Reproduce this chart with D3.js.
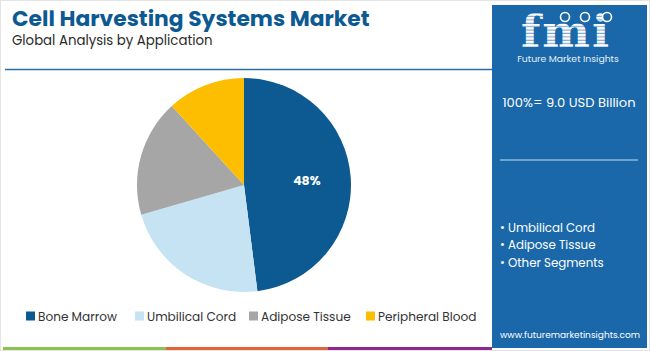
<!DOCTYPE html>
<html><head><meta charset="utf-8">
<script src="https://cdn.jsdelivr.net/npm/d3@7"></script>
<style>body{margin:0;background:#fff}svg{display:block}</style>
</head><body>
<script>
const categories = ["Bone Marrow","Umbilical Cord","Adipose Tissue","Peripheral Blood"];
const values = [48, 22.5, 17.7, 11.8];
const colors = ["#0c5a91","#c6e3f3","#a6a6a6","#fdbd00"];
const title = "Cell Harvesting Systems Market";
const subtitle = "Global Analysis by Application";
const totalText = "100%= 9.0 USD Billion";
const panelList = ["Umbilical Cord","Adipose Tissue","Other Segments"];
const url = "www.futuremarketinsights.com";
const shownLabels = ["48%", null, null, null];

const W=650,H=351;
const svg=d3.select("body").append("svg").attr("width",W).attr("height",H);
svg.append("rect").attr("x",0.5).attr("y",0.5).attr("width",W-1).attr("height",H-1).attr("fill","#fff").attr("stroke","#e4e4e4");

svg.append("text").attr("x",12).attr("y",26).text(title)
  .attr("font-family","Poppins, 'Open Sans', sans-serif").attr("font-weight",700)
  .attr("font-size",21.8).attr("fill","#0d5a93");
svg.append("text").attr("x",12).attr("y",44.5).text(subtitle)
  .attr("font-family","Poppins, 'Open Sans', sans-serif").attr("font-size",13.3)
  .attr("fill","#2b2b2b");
svg.append("line").attr("x1",5).attr("x2",492).attr("y1",69.5).attr("y2",69.5)
  .attr("stroke","#2a6ea6").attr("stroke-width",1.5);

// bottom bar
[["#8cc152",3,166],["#e4643a",166,328],["#8e2a8c",328,492]].forEach(([c,a,b])=>{
  svg.append("rect").attr("x",a).attr("y",347).attr("width",b-a).attr("height",3).attr("fill",c);
});

// pie
const cx=244, cy=185, R=107;
const pie=d3.pie().sort(null).value(d=>d)(values);
const arc=d3.arc().innerRadius(0).outerRadius(R);
const g=svg.append("g").attr("transform",`translate(${cx},${cy})`);
g.selectAll("path").data(pie).join("path").attr("d",arc).attr("fill",(d,i)=>colors[i]);
const labArc=d3.arc().innerRadius(63).outerRadius(63);
g.selectAll("text").data(pie.filter((d,i)=>shownLabels[i])).join("text")
  .attr("transform",d=>`translate(${labArc.centroid(d)})`)
  .attr("text-anchor","middle").attr("dy","0.35em")
  .attr("font-family","Poppins, 'Open Sans', sans-serif").attr("font-weight",700).attr("font-size",12.5)
  .attr("fill","#fff").text(d=>shownLabels[d.index]);

// legend
const legX=[26,135,249,366];
const lg=svg.append("g").selectAll("g").data(categories).join("g")
  .attr("transform",(d,i)=>`translate(${legX[i]},311.5)`);
lg.append("rect").attr("width",9).attr("height",9).attr("fill",(d,i)=>colors[i]);
lg.append("text").attr("x",12).attr("y",9.3).text(d=>d)
  .attr("font-family","Poppins, 'Open Sans', sans-serif").attr("font-size",12.1).attr("fill","#333");

// right panel
const px=492, pw=155;
svg.append("rect").attr("x",px).attr("y",5).attr("width",pw).attr("height",343).attr("fill","#1a68a9");
const defs=svg.append("defs");
const pat=defs.append("pattern").attr("id","stripes").attr("patternUnits","userSpaceOnUse").attr("width",4).attr("height",3.4);
pat.append("rect").attr("width",4).attr("height",3.4).attr("fill","#fff");
pat.append("rect").attr("y",2.3).attr("width",4).attr("height",1.1).attr("fill","#7aa6d0");
svg.append("text").attr("x",566).attr("y",47).attr("text-anchor","middle").text("fmi")
  .attr("font-family","'DejaVu Serif', serif").attr("font-weight",700).attr("font-size",45)
  .attr("letter-spacing",2).attr("fill","url(#stripes)");
// small globe icons of the logo
[565,585,607].forEach(x=>{
  svg.append("circle").attr("cx",x).attr("cy",17).attr("r",4.5).attr("fill","#1a68a9").attr("stroke","#fff").attr("stroke-width",1.6);
});
svg.append("text").attr("x",568).attr("y",62).attr("text-anchor","middle").text("Future Market Insights")
  .attr("font-family","Poppins, 'Open Sans', sans-serif").attr("font-size",9.3).attr("fill","#e6f0f8");
svg.append("text").attr("x",569).attr("y",107).attr("text-anchor","middle").text(totalText)
  .attr("font-family","Poppins, 'Open Sans', sans-serif").attr("font-size",13.1).attr("fill","#fff");
svg.append("line").attr("x1",500).attr("x2",638).attr("y1",160).attr("y2",160).attr("stroke","#c9dcee").attr("stroke-width",1.2);
svg.append("g").selectAll("text").data(panelList).join("text")
  .attr("x",500).attr("y",(d,i)=>231.5+i*17.5).text(d=>"• "+d)
  .attr("font-family","Poppins, 'Open Sans', sans-serif").attr("font-size",11.8).attr("fill","#fff");
svg.append("text").attr("x",570).attr("y",338).attr("text-anchor","middle").text(url)
  .attr("font-family","Poppins, 'Open Sans', sans-serif").attr("font-size",9).attr("fill","#fff");
</script>
</body></html>
